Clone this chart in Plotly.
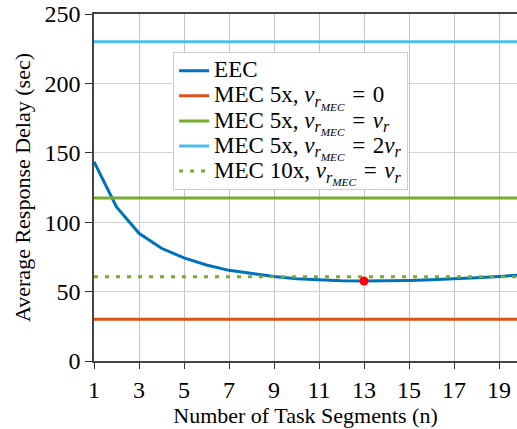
import numpy as np
import plotly.graph_objects as go

# Number of task segments
n_segments = list(range(1, 21))

# Average response delay of the EEC scheme (sec)
eec_delay = [143.6, 111.0, 92.0, 81.2, 74.3, 69.2, 65.3, 62.8, 60.8, 59.3,
             58.4, 57.9, 57.6, 57.7, 58.0, 58.5, 59.1, 59.9, 60.9, 62.0]

# Constant delays of the MEC baselines (sec)
mec5_zero = 30.0
mec5_equal = 117.5
mec5_double = 230.0
mec10_equal = 60.7

nu_r_mec = "<i>ν</i><sub><i>r</i><sub><i>MEC</i></sub></sub>"
nu_r = "<i>ν</i><sub><i>r</i></sub>"
eq = "\u2004=\u2004"  # math-style spacing around the equals sign
legend_names = [
    "EEC",
    f"MEC 5x, {nu_r_mec}{eq}0",
    f"MEC 5x, {nu_r_mec}{eq}{nu_r}",
    f"MEC 5x, {nu_r_mec}{eq}2{nu_r}",
    f"MEC 10x, {nu_r_mec}{eq}{nu_r}",
]

BLUE = "#0072BD"
ORANGE = "#D95319"
GREEN = "#77AC30"
CYAN = "#4DBEEE"
SERIF = "Liberation Serif"


def legend_label(text):
    # larger glyphs than the legend's base size, keeping rows compact
    return f'<span style="font-size:23px">{text}</span>'


x_span = [n_segments[0], n_segments[-1]]

fig = go.Figure()
fig.add_trace(go.Scatter(x=n_segments, y=eec_delay, mode="lines",
                         name=legend_label(legend_names[0]),
                         line=dict(color=BLUE, width=3)))
fig.add_trace(go.Scatter(x=x_span, y=[mec5_zero] * 2, mode="lines",
                         name=legend_label(legend_names[1]),
                         line=dict(color=ORANGE, width=3)))
fig.add_trace(go.Scatter(x=x_span, y=[mec5_equal] * 2, mode="lines",
                         name=legend_label(legend_names[2]),
                         line=dict(color=GREEN, width=3)))
fig.add_trace(go.Scatter(x=x_span, y=[mec5_double] * 2, mode="lines",
                         name=legend_label(legend_names[3]),
                         line=dict(color=CYAN, width=3)))
fig.add_trace(go.Scatter(x=x_span, y=[mec10_equal] * 2, mode="lines",
                         name=legend_label(legend_names[4]),
                         line=dict(color=GREEN, width=3, dash="4px,7px")))

# Mark the optimal number of segments (minimum EEC delay)
i_min = int(np.argmin(eec_delay))
fig.add_trace(go.Scatter(x=[n_segments[i_min]], y=[eec_delay[i_min]], mode="markers",
                         showlegend=False, marker=dict(color="red", size=9)))

fig.update_layout(
    width=517, height=429,
    margin=dict(l=94, r=0, t=14, b=68),
    paper_bgcolor="white", plot_bgcolor="white",
    font=dict(family=SERIF, color="black"),
    showlegend=True,
    legend=dict(x=0.187, y=0.89, xanchor="left", yanchor="top",
                bgcolor="white", bordercolor="#cccccc", borderwidth=1,
                font=dict(family=SERIF, size=17, color="black"),
                itemwidth=30, tracegroupgap=0),
)
fig.update_xaxes(
    range=[1, 19.8], tickvals=list(range(1, 20, 2)),
    ticks="outside", ticklen=6, tickcolor="#333333", tickwidth=1.2,
    showline=True, linecolor="#444444", linewidth=1.5, mirror=True,
    showgrid=True, gridcolor="#c4c4c4", gridwidth=1, zeroline=False,
    tickfont=dict(family=SERIF, size=24, color="black"),
    title=dict(text="Number of Task Segments (n)", font=dict(family=SERIF, size=22), standoff=2),
)
fig.update_yaxes(
    range=[0, 250], tickvals=[0, 50, 100, 150, 200, 250],
    ticks="outside", ticklen=7, tickcolor="#333333", tickwidth=1.2,
    showline=True, linecolor="#444444", linewidth=1.5,
    showgrid=True, gridcolor="#d2d2d2", gridwidth=1, zeroline=False,
    tickfont=dict(family=SERIF, size=24, color="black"),
    title=dict(text="Average Response Delay (sec)", font=dict(family=SERIF, size=22), standoff=8),
)

fig.write_html("out.html")
